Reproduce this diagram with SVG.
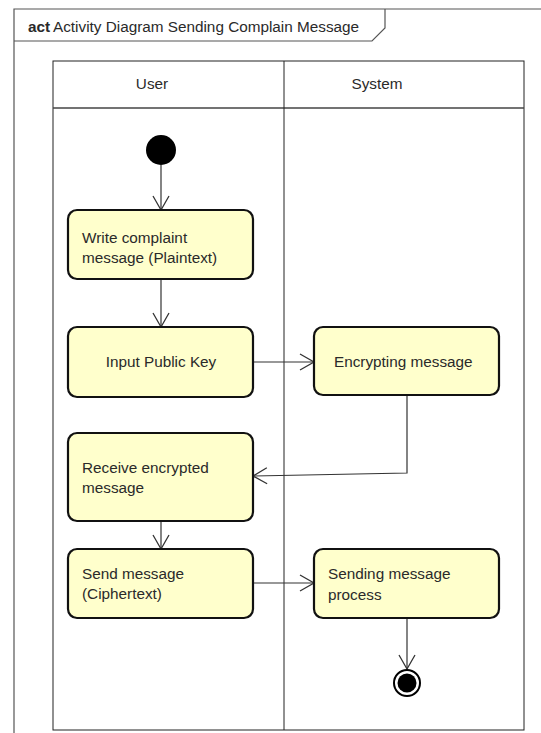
<svg xmlns="http://www.w3.org/2000/svg" width="541" height="733" viewBox="0 0 541 733">
<defs>
<style>
text{font-family:"Liberation Sans",Arial,sans-serif;font-size:15.3px;fill:#2a2a2a}
.frame{fill:none;stroke:#555;stroke-width:1.2}
.lane{fill:none;stroke:#222;stroke-width:1}
.act{fill:#ffffcc;stroke:#111;stroke-width:2.2}
.edge{fill:none;stroke:#333;stroke-width:1.2}
</style>
<marker id="arr" markerUnits="userSpaceOnUse" markerWidth="18" markerHeight="20" viewBox="0 0 18 20" refX="15" refY="9" orient="auto">
<path d="M1,1 L15,9 L1,17" fill="none" stroke="#333" stroke-width="1.3"/>
</marker>
</defs>
<rect x="0" y="0" width="541" height="733" fill="#fff"/>
<g id="frame">
<path class="frame" d="M14,740 L14,9 L545,9"/>
<path class="frame" d="M14,41 L372,41 L385,28 L385,9"/>
<text x="28" y="32" style="font-weight:bold">act</text>
<text x="53" y="32">Activity Diagram Sending Complain Message</text>
</g>
<g id="swimlanes">
<rect class="lane" x="53" y="61" width="471" height="669"/>
<line class="lane" x1="53" y1="108" x2="524" y2="108" style="stroke-width:1.5;stroke:#444"/>
<line class="lane" x1="284" y1="61" x2="284" y2="730"/>
<text x="152" y="89" text-anchor="middle">User</text>
<text x="377" y="89" text-anchor="middle">System</text>
</g>
<g id="connectors">
<line class="edge" x1="161" y1="165" x2="161" y2="210" marker-end="url(#arr)"/>
<line class="edge" x1="161" y1="279" x2="161" y2="327" marker-end="url(#arr)"/>
<line class="edge" x1="253" y1="362" x2="314" y2="362" marker-end="url(#arr)"/>
<polyline class="edge" points="407,395 407,473 253,476" marker-end="url(#arr)"/>
<line class="edge" x1="161" y1="521" x2="161" y2="549" marker-end="url(#arr)"/>
<line class="edge" x1="253" y1="583" x2="314" y2="583" marker-end="url(#arr)"/>
<line class="edge" x1="407" y1="618" x2="407" y2="669" marker-end="url(#arr)"/>
</g>
<g id="start">
<circle cx="161" cy="150" r="15" fill="#000"/>
</g>
<g id="write">
<rect class="act" x="68" y="210" width="185" height="69" rx="9"/>
<text x="82" y="243">Write complaint</text>
<text x="82" y="263">message (Plaintext)</text>
</g>
<g id="input">
<rect class="act" x="68" y="327" width="185" height="70" rx="9"/>
<text x="161" y="367" text-anchor="middle">Input Public Key</text>
</g>
<g id="encrypt">
<rect class="act" x="314" y="327" width="185" height="68" rx="9"/>
<text x="334" y="367">Encrypting message</text>
</g>
<g id="receive">
<rect class="act" x="68" y="433" width="185" height="88" rx="9"/>
<text x="82" y="473">Receive encrypted</text>
<text x="82" y="493">message</text>
</g>
<g id="send">
<rect class="act" x="68" y="549" width="185" height="69" rx="9"/>
<text x="82" y="579">Send message</text>
<text x="82" y="599">(Ciphertext)</text>
</g>
<g id="sending">
<rect class="act" x="314" y="549" width="185" height="69" rx="9"/>
<text x="328" y="579">Sending message</text>
<text x="328" y="600">process</text>
</g>
<g id="end">
<circle cx="407" cy="683" r="13" fill="#fff" stroke="#000" stroke-width="2"/>
<circle cx="407" cy="683" r="9.5" fill="#000"/>
</g>
</svg>
